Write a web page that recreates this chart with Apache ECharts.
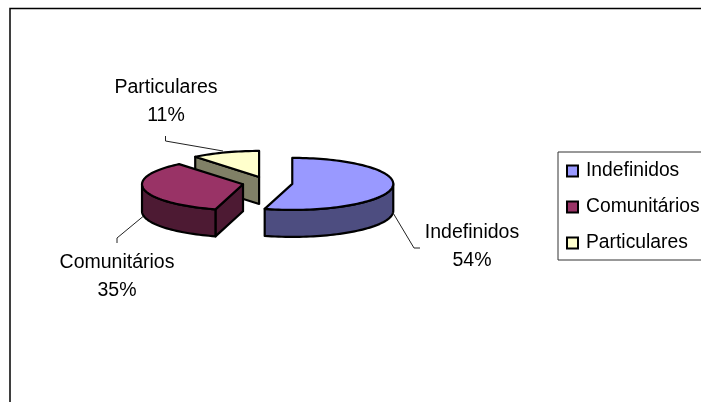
<!DOCTYPE html>
<html>
<head>
<meta charset="utf-8">
<script src="https://cdn.jsdelivr.net/npm/echarts@6/dist/echarts.min.js"></script>
<style>html,body{margin:0;padding:0;background:#fff}#c{width:701px;height:402px}</style>
</head>
<body>
<div id="c"></div>
<script>
const categories = ['Indefinidos', 'Comunitários', 'Particulares'];
const values = [54.4, 34.7, 10.9];
const topColors = ['#9999FF', '#993366', '#FFFFCC'];
const wallColors = ['#4D4D80', '#4D1A33', '#808066'];

// Layout of the tilted pie (pixels)
const PIE = { cx: 267.5, cy: 183, rx: 101, ry: 26, depth: 27, explode: 25 };
const FONT = '19.5px "Liberation Sans", Arial, sans-serif';
const labelCenters = [[472, 246.5], [117, 277], [166, 102]];
const leaders = [
  [[420, 248], [414, 248], [392.5, 212]],
  [[117, 243], [117, 238], [143, 216.5]],
  [[165.5, 136], [165.5, 141], [223, 151]]
];

const total = values.reduce((a, b) => a + b, 0);
const rad = d => d * Math.PI / 180;

function sliceAngles(i) {
  let before = 0;
  for (let k = 0; k < i; k++) before += values[k];
  return [before / total * 360, (before + values[i]) / total * 360];
}

function renderSlice(i) {
  const [a0, a1] = sliceAngles(i);
  const mid = rad((a0 + a1) / 2);
  const ox = PIE.cx + Math.sin(mid) * PIE.explode;
  const oy = PIE.cy - Math.cos(mid) * PIE.explode * PIE.ry / PIE.rx;
  const rim = (d, dz) => [ox + Math.sin(rad(d)) * PIE.rx, oy - Math.cos(rad(d)) * PIE.ry + (dz || 0)];
  const arc = (from, to, dz) => {
    const n = Math.max(2, Math.ceil(Math.abs(to - from) / 2));
    const pts = [];
    for (let s = 0; s <= n; s++) pts.push(rim(from + (to - from) * s / n, dz));
    return pts;
  };
  const stroke = { stroke: '#000', lineWidth: 2.2, lineJoin: 'round' };
  const children = [];
  const face = (pts, fill) => children.push({ type: 'polygon', shape: { points: pts }, style: Object.assign({ fill }, stroke) });
  const wall = wallColors[i];
  const cutFace = d => [[ox, oy], rim(d), rim(d, PIE.depth), [ox, oy + PIE.depth]];
  if (Math.sin(rad(a0)) < -1e-6) face(cutFace(a0), wall);
  if (Math.sin(rad(a1)) > 1e-6) face(cutFace(a1), wall);
  const w0 = Math.max(a0, 90), w1 = Math.min(a1, 270);
  if (w1 > w0) face(arc(w0, w1).concat(arc(w1, w0, PIE.depth)), wall);
  face([[ox, oy]].concat(arc(a0, a1)), topColors[i]);

  children.push({
    type: 'polyline', shape: { points: leaders[i] },
    style: { fill: null, stroke: '#222', lineWidth: 1 }
  });
  children.push({
    type: 'text',
    style: {
      text: categories[i] + '\n' + Math.round(values[i] / total * 100) + '%',
      x: labelCenters[i][0], y: labelCenters[i][1],
      font: FONT, fill: '#000', lineHeight: 28,
      align: 'center', verticalAlign: 'middle'
    }
  });
  return { type: 'group', children };
}

const chart = echarts.init(document.getElementById('c'), null, { renderer: 'canvas' });
chart.setOption({
  animation: false,
  backgroundColor: '#fff',
  tooltip: { show: false },
  graphic: [{
    type: 'rect', silent: true, z: 0,
    shape: { x: 10, y: 8.5, width: 800, height: 500 },
    style: { fill: 'none', stroke: '#000', lineWidth: 1.5 }
  }],
  legend: {
    orient: 'vertical',
    left: 558, top: 152,
    data: categories,
    icon: 'rect',
    itemWidth: 11, itemHeight: 11,
    itemGap: 14,
    padding: [8, 8, 6, 8],
    borderColor: '#333', borderWidth: 1,
    backgroundColor: '#fff',
    selectedMode: false,
    itemStyle: { borderColor: '#000', borderWidth: 2 },
    textStyle: { fontFamily: '"Liberation Sans", Arial, sans-serif', fontSize: 19.3, color: '#000', padding: [0, 0, 0, 3], height: 22, lineHeight: 22 }
  },
  series: categories.map((name, i) => ({
    type: 'custom',
    name,
    coordinateSystem: 'none',
    z: 10 - i,
    itemStyle: { color: topColors[i] },
    data: [values[i]],
    silent: true,
    renderItem: () => renderSlice(i)
  })).reverse()
});
</script>
</body>
</html>
